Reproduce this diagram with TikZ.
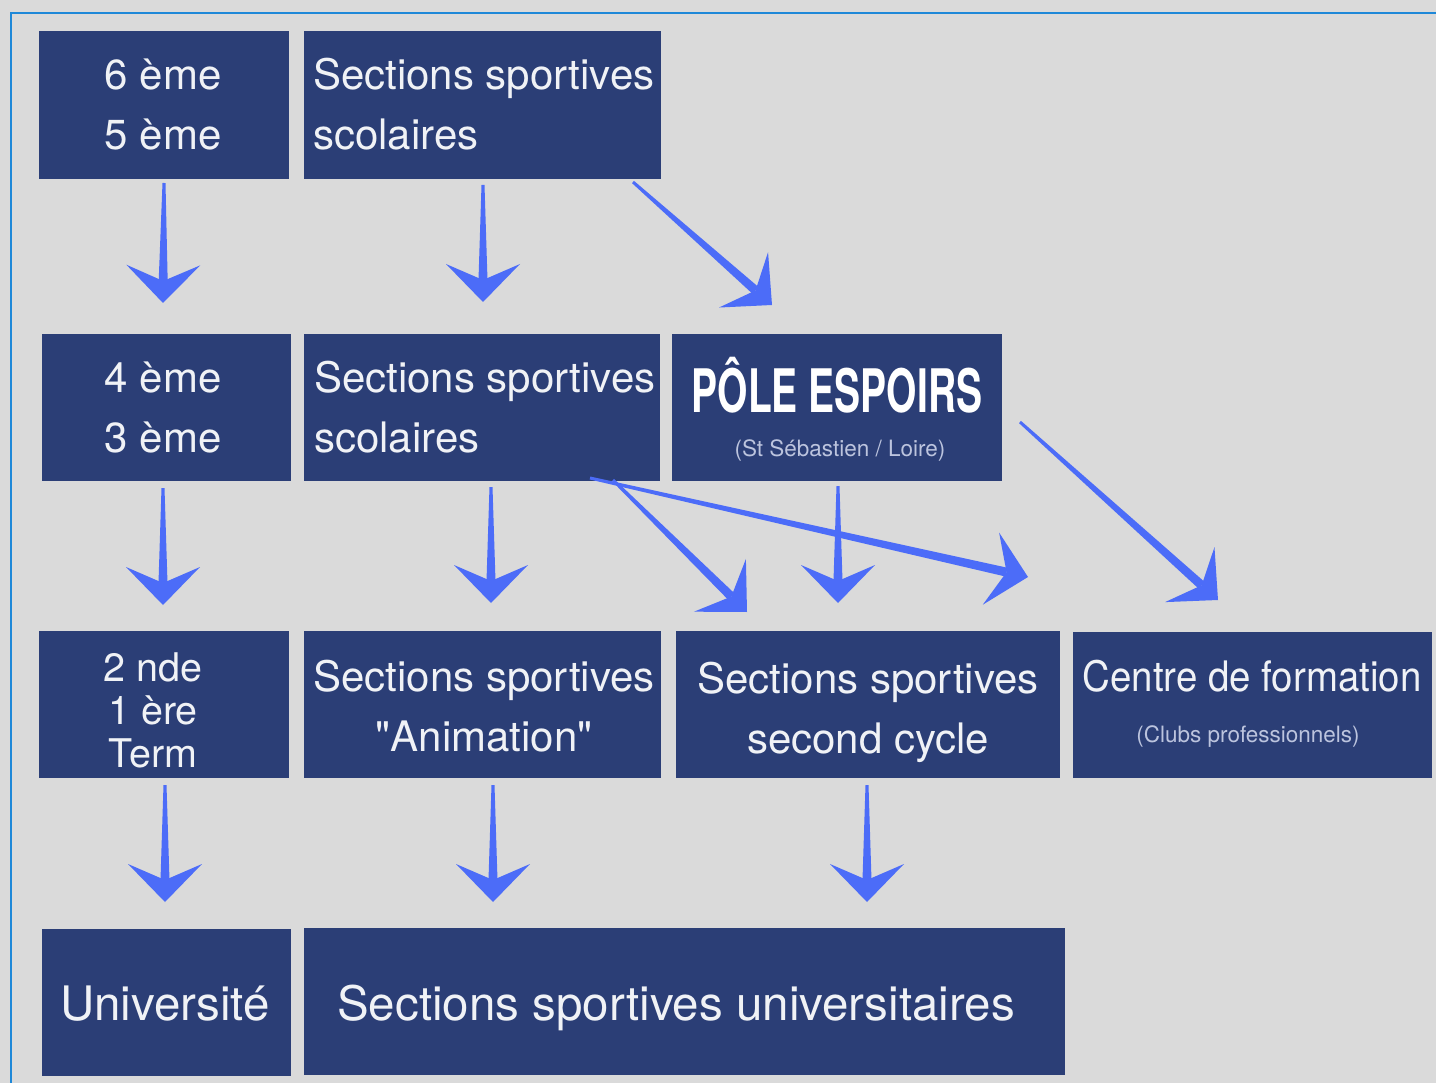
\documentclass[tikz,border=0pt]{standalone}
\usepackage{fontspec}
\setmainfont{TeX Gyre Heros}[Ligatures=TeXOff]
\usepackage{graphicx}
\usetikzlibrary{calc}
\definecolor{bgc}{RGB}{218,218,218}
\definecolor{boxc}{RGB}{43,62,118}
\definecolor{arrc}{RGB}{76,108,248}
\definecolor{framec}{RGB}{30,136,216}
\definecolor{txtc}{RGB}{240,242,246}
\definecolor{subc}{RGB}{188,196,222}
\newcommand{\flecha}[2]{%
  \path ($(#2)!22pt!(#1)$) coordinate (fN)
        ($(#2)!38pt!(#1)$) coordinate (fB);
  \fill[arrc] ($(#1)!1.5pt!90:(#2)$) -- ($(fN)!4.5pt!90:(#2)$) -- ($(fN)!4.5pt!-90:(#2)$) -- ($(#1)!1.5pt!-90:(#2)$) -- cycle;
  \fill[arrc] (#2) -- ($(fB)!37pt!90:(#2)$) -- (fN) -- ($(fB)!37pt!-90:(#2)$) -- cycle;
}
\begin{document}
\begin{tikzpicture}[x=1pt,y=-1pt,
  box/.style={fill=boxc, draw=none, inner sep=0pt, anchor=north west},
  txt/.style={text=txtc, inner sep=0pt, font=\fontsize{42}{60}\selectfont},
  txtsm/.style={text=txtc, inner sep=0pt, font=\fontsize{39.5}{43}\selectfont},
  txtbig/.style={text=txtc, inner sep=0pt, font=\fontsize{47.5}{55}\selectfont},
  sub/.style={text=subc, inner sep=0pt, font=\fontsize{22.5}{26}\selectfont}]
\fill[bgc] (0,0) rectangle (1436,1083);
\useasboundingbox (0,0) rectangle (1436,1083);
\draw[framec, line width=2.5pt] (11,1083) -- (11,13) -- (1436,13);
% boxes
\node[box, minimum width=250pt, minimum height=148pt] (A) at (39,31) {};
\node[box, minimum width=357pt, minimum height=148pt] (B) at (304,31) {};
\node[box, minimum width=249pt, minimum height=147pt] (C) at (42,334) {};
\node[box, minimum width=356pt, minimum height=147pt] (D) at (304,334) {};
\node[box, minimum width=330pt, minimum height=147pt] (E) at (672,334) {};
\node[box, minimum width=250pt, minimum height=147pt] (F) at (39,631) {};
\node[box, minimum width=357pt, minimum height=147pt] (G) at (304,631) {};
\node[box, minimum width=384pt, minimum height=147pt] (H) at (676,631) {};
\node[box, minimum width=359pt, minimum height=146pt] (I) at (1073,632) {};
\node[box, minimum width=249pt, minimum height=147pt] (J) at (42,929) {};
\node[box, minimum width=761pt, minimum height=147pt] (K) at (304,928) {};
% texts (anchor = baseline of last line)
\node[txt, align=center, anchor=base] (tA) at (163,150) {6 ème\\5 ème};
\node[txt, align=left, anchor=base west] (tB) at (313,150) {Sections sportives\\scolaires};
\node[txt, align=center, anchor=base] (tC) at (163,453) {4 ème\\3 ème};
\node[txt, align=left, anchor=base west] (tD) at (314,453) {Sections sportives\\scolaires};
\node[inner sep=0pt, text=white, anchor=base] (tE) at (837,413) {\scalebox{0.65}[1]{\fontsize{60}{60}\selectfont\bfseries PÔLE ESPOIRS}};
\node[sub, anchor=base] (sE) at (840,456) {(St Sébastien / Loire)};
\node[txtsm, align=center, anchor=base] (tF) at (153,767) {2 nde\\1 ère\\Term};
\node[txt, align=center, anchor=base] (tG) at (484,751) {Sections sportives\\"Animation"};
\node[txt, align=center, anchor=base] (tH) at (868,753) {Sections sportives\\second cycle};
\node[txt, anchor=base] (tI) at (1252,691) {\scalebox{0.915}[1]{Centre de formation}};
\node[sub, anchor=base] (sI) at (1248,742) {(Clubs professionnels)};
\node[txtbig, anchor=base] (tJ) at (165,1020) {Université};
\node[txtbig, anchor=base west] (tK) at (337,1020) {Sections sportives universitaires};
% arrow end points
\coordinate (a1s) at (164,183);  \coordinate (a1t) at (163,303);
\coordinate (a2s) at (483,185);  \coordinate (a2t) at (483,302);
\coordinate (a3s) at (633,182);  \coordinate (a3t) at (772,305);
\coordinate (a4s) at (163,488);  \coordinate (a4t) at (163,605);
\coordinate (a5s) at (491,487);  \coordinate (a5t) at (491,603);
\coordinate (a6s) at (613,480);  \coordinate (a6t) at (747,612);
\coordinate (a7s) at (590,478);  \coordinate (a7t) at (1028,577);
\coordinate (a8s) at (838,486);  \coordinate (a8t) at (838,603);
\coordinate (a9s) at (1020,422); \coordinate (a9t) at (1218,600);
\coordinate (a10s) at (165,785); \coordinate (a10t) at (165,902);
\coordinate (a11s) at (493,785); \coordinate (a11t) at (493,902);
\coordinate (a12s) at (867,785); \coordinate (a12t) at (867,902);
\flecha{a1s}{a1t}
\flecha{a2s}{a2t}
\flecha{a3s}{a3t}
\flecha{a4s}{a4t}
\flecha{a5s}{a5t}
\flecha{a6s}{a6t}
\flecha{a7s}{a7t}
\flecha{a8s}{a8t}
\flecha{a9s}{a9t}
\flecha{a10s}{a10t}
\flecha{a11s}{a11t}
\flecha{a12s}{a12t}
\end{tikzpicture}
\end{document}
